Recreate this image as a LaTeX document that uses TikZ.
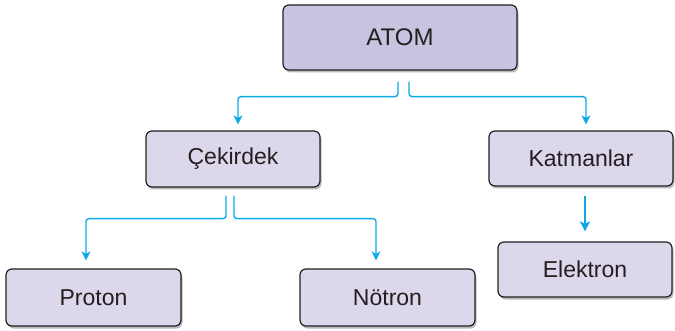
\documentclass[tikz,border=0pt]{standalone}
\usepackage{fontspec}
\setmainfont{Liberation Sans}
\usetikzlibrary{shadows,arrows.meta,calc}
\definecolor{boxdark}{HTML}{C7C4E0}
\definecolor{boxlight}{HTML}{DCD7EB}
\definecolor{edge}{HTML}{231F20}
\definecolor{conncol}{HTML}{0AAAE6}
\begin{document}
\begin{tikzpicture}[x=1pt,y=-1pt,
  box/.style={draw=edge, line width=1.2pt, rounded corners=6pt, fill=boxlight,
    text=edge, inner sep=0pt, font=\fontsize{23}{27}\selectfont,
    drop shadow={shadow xshift=1.5pt, shadow yshift=-2.5pt, fill=black!45, opacity=0.6}},
  conn/.style={draw=conncol, line width=1.4pt, rounded corners=3pt,
    -{Stealth[length=9pt,width=9pt,inset=2.5pt]}},
  thickconn/.style={draw=conncol, line width=2.2pt,
    -{Stealth[length=10pt,width=10pt,inset=2.5pt]}}]
\useasboundingbox (0,0) rectangle (675,331);
\node[box, fill=boxdark, minimum width=234pt, minimum height=65pt, font=\fontsize{24}{28}\selectfont] (atom) at (400,37.5) {ATOM};
\node[box, minimum width=174pt, minimum height=56pt] (cek) at (233,159) {Çekirdek};
\node[box, minimum width=184pt, minimum height=55pt] (kat) at (581,158.5) {Katmanlar};
\node[box, minimum width=174pt, minimum height=55pt] (ele) at (585,269.5) {Elektron};
\node[box, minimum width=175pt, minimum height=57pt] (pro) at (93.5,297.5) {Proton};
\node[box, minimum width=175pt, minimum height=57pt] (not) at (387.5,297.5) {Nötron};
% ATOM connectors
\coordinate (a1) at ($(atom.south)+(-2,11)$);
\coordinate (a2) at ($(atom.south)+(9,11)$);
\draw[conn] (a1) -- ++(0,15) -| ([xshift=5pt,yshift=6pt]cek.north);
\draw[conn] (a2) -- ++(0,15) -| ([xshift=5pt,yshift=6pt]kat.north);
% Cekirdek connectors
\coordinate (c1) at ($(cek.south)+(-7,8)$);
\coordinate (c2) at ($(cek.south)+(1,8)$);
\draw[conn] (c1) -- ++(0,23) -| ([xshift=-7.5pt,yshift=8pt]pro.north);
\draw[conn] (c2) -- ++(0,23) -| ([xshift=-11.5pt,yshift=8pt]not.north);
% Katmanlar to Elektron
\draw[thickconn] ([xshift=4pt,yshift=-9pt]kat.south) -- ([yshift=10pt]ele.north);
\end{tikzpicture}
\end{document}
